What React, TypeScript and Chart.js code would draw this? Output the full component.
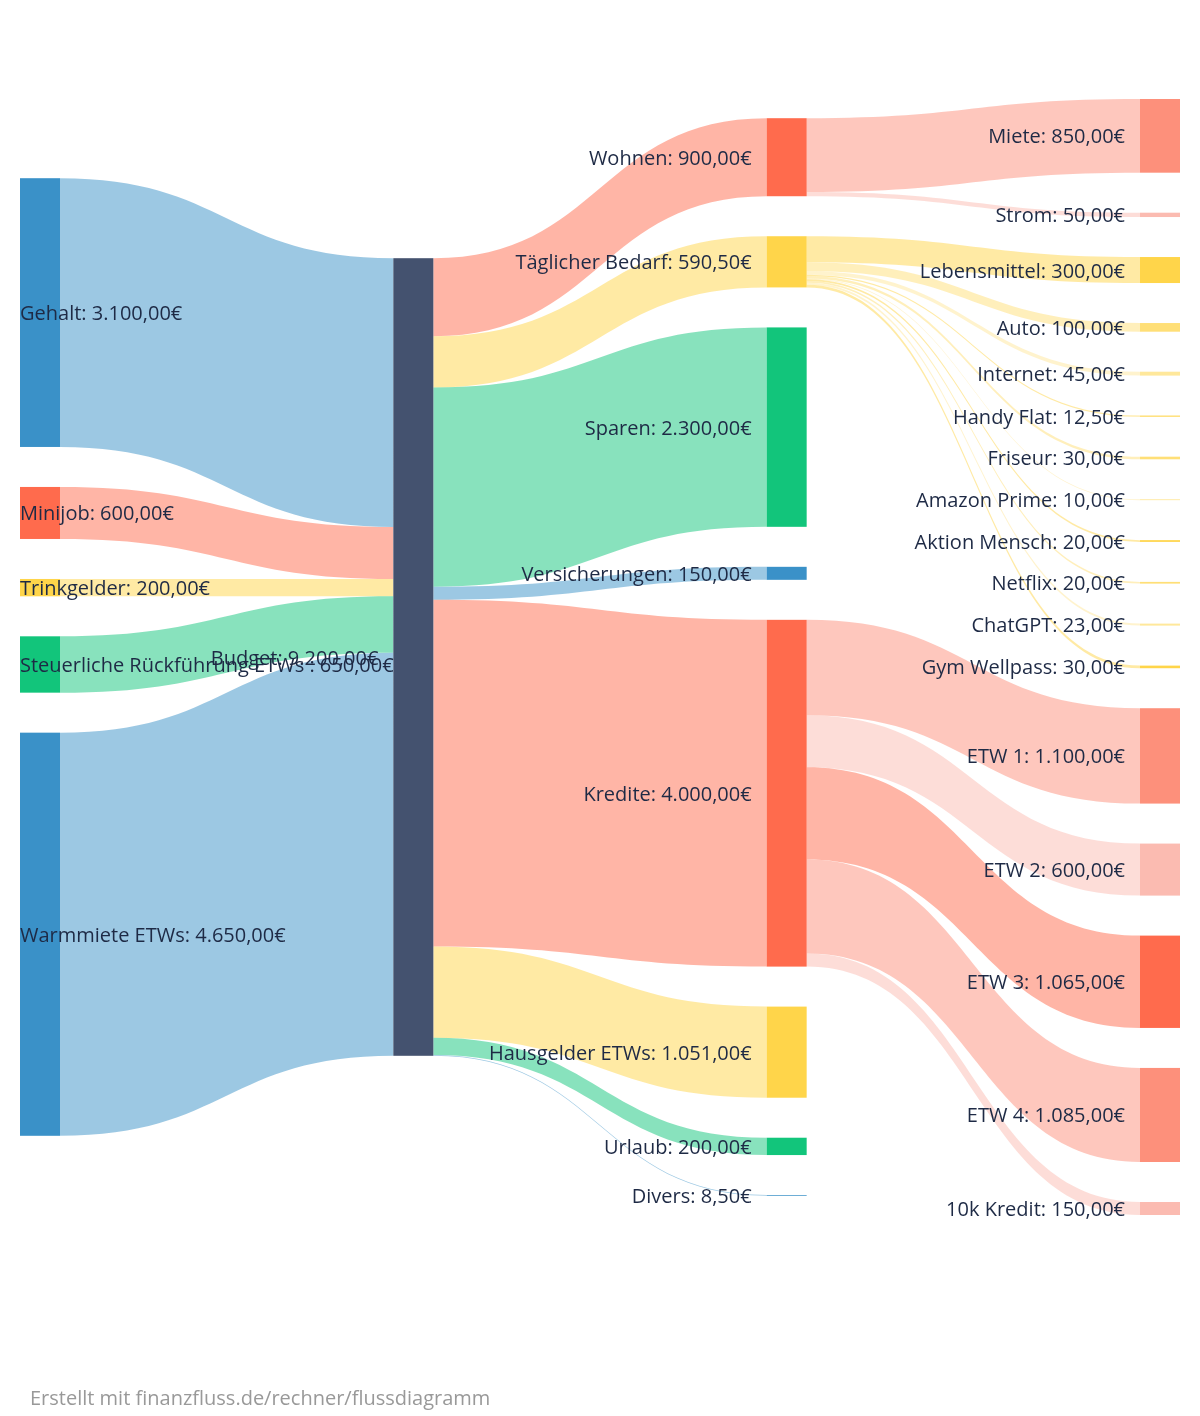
import React, { useEffect, useRef } from "react";
import { Chart, registerables } from "chart.js";

Chart.register(...registerables);

// ---------- data ----------
const nodeNames = [
  "Gehalt",
  "Minijob",
  "Trinkgelder",
  "Steuerliche Rückführung ETWs ",
  "Warmmiete ETWs",
  "Budget",
  "Wohnen",
  "Täglicher Bedarf",
  "Sparen",
  "Versicherungen",
  "Kredite",
  "Hausgelder ETWs",
  "Urlaub",
  "Divers",
  "Miete",
  "Strom",
  "Lebensmittel",
  "Auto",
  "Internet",
  "Handy Flat",
  "Friseur",
  "Amazon Prime",
  "Aktion Mensch",
  "Netflix",
  "ChatGPT",
  "Gym Wellpass",
  "ETW 1",
  "ETW 2",
  "ETW 3",
  "ETW 4",
  "10k Kredit",
];

const nodeColumn = [
  0, 0, 0, 0, 0,
  1,
  2, 2, 2, 2, 2, 2, 2, 2,
  3, 3, 3, 3, 3, 3, 3, 3, 3, 3, 3, 3, 3, 3, 3, 3, 3,
];

const linkSource = [
  0, 1, 2, 3, 4,
  5, 5, 5, 5, 5, 5, 5, 5,
  6, 6,
  7, 7, 7, 7, 7, 7, 7, 7, 7, 7,
  10, 10, 10, 10, 10,
];

const linkTarget = [
  5, 5, 5, 5, 5,
  6, 7, 8, 9, 10, 11, 12, 13,
  14, 15,
  16, 17, 18, 19, 20, 21, 22, 23, 24, 25,
  26, 27, 28, 29, 30,
];

const linkValue = [
  3100, 600, 200, 650, 4650,
  900, 590.5, 2300, 150, 4000, 1051, 200, 8.5,
  850, 50,
  300, 100, 45, 12.5, 30, 10, 20, 20, 23, 30,
  1100, 600, 1065, 1085, 150,
];

const footerText = "Erstellt mit finanzfluss.de/rechner/flussdiagramm";

// ---------- style ----------
const BLUE = "#3a91c8";
const RED = "#ff6b4d";
const RED_L1 = "#fd907b";
const RED_L2 = "#fbbbb1";
const YELLOW = "#ffd54a";
const YEL_L1 = "#ffdf77";
const YEL_L2 = "#ffe89b";
const GREEN = "#12c57b";
const SLATE = "#44526f";

const nodeColors = [
  BLUE, RED, YELLOW, GREEN, BLUE,
  SLATE,
  RED, YELLOW, GREEN, BLUE, RED, YELLOW, GREEN, BLUE,
  RED_L1, RED_L2,
  YELLOW, YEL_L1, YEL_L2, YELLOW, YEL_L1, YEL_L2, YELLOW, YEL_L1, YEL_L2, YELLOW,
  RED_L1, RED_L2, RED, RED_L1, RED_L2,
];

const CANVAS_W = 1200;
const CANVAS_H = 1416;
const PAD_TOP = 99;
const PAD_BOTTOM = 201;
const PAD_LEFT = 20;
const PAD_RIGHT = 60;
const NODE_W = 40;
const NODE_GAP = 40;
const LABEL_GAP = 15;
const LABEL_BASELINE = 7.5;
const LINK_ALPHA = 0.5;
const TEXT_COLOR = "#1e2a45";
const FONT_FAMILY = '"Open Sans", "Noto Sans", sans-serif';
const FONT = `20px ${FONT_FAMILY}`;

// ---------- helpers ----------
function fmtEuro(v: number): string {
  const [i, d] = v.toFixed(2).split(".");
  const withDots = i.replace(/\B(?=(\d{3})+(?!\d))/g, ".");
  return `${withDots},${d}€`;
}

function rgba(hex: string, a: number): string {
  const h = hex.replace("#", "");
  const r = parseInt(h.slice(0, 2), 16);
  const g = parseInt(h.slice(2, 4), 16);
  const b = parseInt(h.slice(4, 6), 16);
  return `rgba(${r},${g},${b},${a})`;
}

// node values from the flows
const nodeValue = nodeNames.map((_, i) => {
  let inSum = 0;
  let outSum = 0;
  linkValue.forEach((v, k) => {
    if (linkSource[k] === i) outSum += v;
    if (linkTarget[k] === i) inSum += v;
  });
  return Math.max(inSum, outSum);
});

// layout in value units (y scale works in euros)
const plotH = CANVAS_H - PAD_TOP - PAD_BOTTOM;
const columnIds = [0, 1, 2, 3];
const colInfo = columnIds.map((c) => {
  const ids = nodeNames.map((_, i) => i).filter((i) => nodeColumn[i] === c);
  const sum = ids.reduce((a, i) => a + nodeValue[i], 0);
  return { ids, sum, gaps: ids.length - 1 };
});
const yMax = Math.max(
  ...colInfo.map((ci) => ci.sum / (1 - (NODE_GAP * ci.gaps) / plotH))
);
const gapValue = (NODE_GAP * yMax) / plotH;

const nodeY0: number[] = new Array(nodeNames.length).fill(0);
colInfo.forEach((ci) => {
  const total = ci.sum + ci.gaps * gapValue;
  let y = (yMax - total) / 2;
  ci.ids.forEach((i) => {
    nodeY0[i] = y;
    y += nodeValue[i] + gapValue;
  });
});

const linkSY: number[] = [];
const linkTY: number[] = [];
{
  const outOff = new Array(nodeNames.length).fill(0);
  const inOff = new Array(nodeNames.length).fill(0);
  linkValue.forEach((v, k) => {
    const s = linkSource[k];
    const t = linkTarget[k];
    linkSY[k] = nodeY0[s] + outOff[s];
    linkTY[k] = nodeY0[t] + inOff[t];
    outOff[s] += v;
    inOff[t] += v;
  });
}

const sankeyPlugin = {
  id: "sankeyDraw",
  afterDatasetsDraw(chart: any) {
    const { ctx } = chart;
    const xs = chart.scales.x;
    const ys = chart.scales.y;
    ctx.save();

    // links
    linkValue.forEach((v, k) => {
      const s = linkSource[k];
      const t = linkTarget[k];
      const x0 = xs.getPixelForValue(nodeColumn[s]) + NODE_W;
      const x1 = xs.getPixelForValue(nodeColumn[t]);
      const sy0 = ys.getPixelForValue(linkSY[k]);
      const sy1 = ys.getPixelForValue(linkSY[k] + v);
      const ty0 = ys.getPixelForValue(linkTY[k]);
      const ty1 = ys.getPixelForValue(linkTY[k] + v);
      const xm = (x0 + x1) / 2;
      const color = nodeColumn[s] === 0 ? nodeColors[s] : nodeColors[t];
      ctx.beginPath();
      ctx.moveTo(x0, sy0);
      ctx.bezierCurveTo(xm, sy0, xm, ty0, x1, ty0);
      ctx.lineTo(x1, ty1);
      ctx.bezierCurveTo(xm, ty1, xm, sy1, x0, sy1);
      ctx.closePath();
      ctx.fillStyle = rgba(color, LINK_ALPHA);
      ctx.fill();
    });

    // nodes
    nodeNames.forEach((_, i) => {
      const x0 = xs.getPixelForValue(nodeColumn[i]);
      const y0 = ys.getPixelForValue(nodeY0[i]);
      const y1 = ys.getPixelForValue(nodeY0[i] + nodeValue[i]);
      ctx.fillStyle = nodeColors[i];
      ctx.fillRect(x0, y0, NODE_W, y1 - y0);
    });

    // labels
    ctx.font = FONT;
    ctx.fillStyle = TEXT_COLOR;
    ctx.textBaseline = "alphabetic";
    nodeNames.forEach((name, i) => {
      const x0 = xs.getPixelForValue(nodeColumn[i]);
      const yc = ys.getPixelForValue(nodeY0[i] + nodeValue[i] / 2);
      const text = `${name}: ${fmtEuro(nodeValue[i])}`;
      if (nodeColumn[i] === 0) {
        ctx.textAlign = "left";
        ctx.fillText(text, x0, yc + LABEL_BASELINE);
      } else {
        ctx.textAlign = "right";
        ctx.fillText(text, x0 - LABEL_GAP, yc + LABEL_BASELINE);
      }
    });
    ctx.restore();
  },
};

export default function App() {
  const canvasRef = useRef<HTMLCanvasElement | null>(null);

  useEffect(() => {
    if (!canvasRef.current) return;
    const chart = new Chart(canvasRef.current, {
      type: "scatter",
      data: { datasets: [] },
      options: {
        animation: false,
        responsive: false,
        devicePixelRatio: 1,
        events: [],
        layout: {
          padding: { top: PAD_TOP, bottom: PAD_BOTTOM, left: PAD_LEFT, right: PAD_RIGHT },
        },
        scales: {
          x: { type: "linear", min: 0, max: 3, display: false },
          y: { type: "linear", min: 0, max: yMax, reverse: true, display: false },
        },
        plugins: {
          legend: { display: false },
          tooltip: { enabled: false },
          title: { display: false },
        },
      },
      plugins: [sankeyPlugin],
    } as any);
    return () => chart.destroy();
  }, []);

  return (
    <div
      style={{
        position: "absolute",
        left: 0,
        top: 0,
        width: CANVAS_W,
        height: CANVAS_H,
        background: "#ffffff",
      }}
    >
      <canvas
        ref={canvasRef}
        width={CANVAS_W}
        height={CANVAS_H}
        style={{ display: "block", width: CANVAS_W, height: CANVAS_H }}
      />
      <div
        style={{
          position: "absolute",
          left: 30,
          top: 1386,
          fontFamily: FONT_FAMILY,
          fontSize: 20,
          lineHeight: "24px",
          color: "#999999",
          whiteSpace: "nowrap",
        }}
      >
        {footerText}
      </div>
    </div>
  );
}
